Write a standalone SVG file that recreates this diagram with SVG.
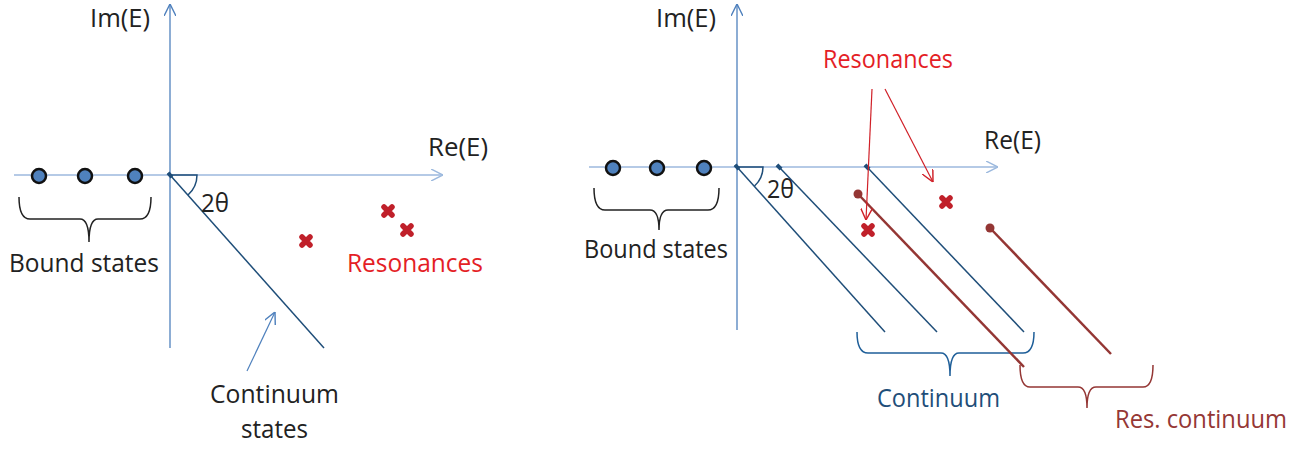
<svg xmlns="http://www.w3.org/2000/svg" width="1307" height="451" viewBox="0 0 1307 451">
<style>
text{font-family:"Open Sans",Lato,"Liberation Sans",sans-serif;font-size:25px;fill:#222}
.red{fill:#e41e26}
.blue{fill:#1f4e79}
.brown{fill:#953735}
.vax{stroke:#4f81bd;stroke-width:1.3;fill:none}
.hax{stroke:#9cb9de;stroke-width:1.3;fill:none}
.cont{stroke:#1f4e79;stroke-width:1.5;fill:none}
.rcont{stroke:#943634;stroke-width:2.5;fill:none}
.brace{stroke:#222;stroke-width:1.5;fill:none}
.cross{stroke:#c0202a;stroke-width:5.5;stroke-linecap:round}
.dot{fill:#4f81bd;stroke:#111;stroke-width:2.5}
.rdot{fill:#943634}
.rarrow{stroke:#d02028;stroke-width:1.2;fill:none}
.carrow{stroke:#4f81bd;stroke-width:1.2;fill:none}
</style>
<defs>
<marker id="axisV" markerWidth="12" markerHeight="12" refX="10" refY="5" orient="auto" markerUnits="userSpaceOnUse" viewBox="0 0 10 10">
<path d="M0,0 L10,5 L0,10" fill="none" stroke="#4f81bd" stroke-width="1.2"/>
</marker>
<marker id="axisH" markerWidth="12" markerHeight="12" refX="10" refY="5" orient="auto" markerUnits="userSpaceOnUse" viewBox="0 0 10 10">
<path d="M0,0 L10,5 L0,10" fill="none" stroke="#9cb9de" stroke-width="1.2"/>
</marker>
<marker id="redArr" markerWidth="12" markerHeight="12" refX="10" refY="5" orient="auto" markerUnits="userSpaceOnUse" viewBox="0 0 10 10">
<path d="M0,0 L10,5 L0,10" fill="none" stroke="#d02028" stroke-width="1.2"/>
</marker>
<marker id="blueArr" markerWidth="12" markerHeight="12" refX="10" refY="5" orient="auto" markerUnits="userSpaceOnUse" viewBox="0 0 10 10">
<path d="M0,0 L10,5 L0,10" fill="none" stroke="#4f81bd" stroke-width="1.2"/>
</marker>
<marker id="sq" markerWidth="6" markerHeight="6" refX="3" refY="3" orient="auto" markerUnits="userSpaceOnUse" viewBox="0 0 6 6">
<rect x="0" y="1" width="6" height="4" fill="#1f4e79"/>
</marker>
</defs>

<g id="left-panel">
<g id="left-axes">
<line class="vax" x1="170" y1="348" x2="170" y2="4" marker-end="url(#axisV)"/>
<line class="hax" x1="14" y1="175" x2="443" y2="175" marker-end="url(#axisH)"/>
<text x="90" y="27" textLength="60" lengthAdjust="spacingAndGlyphs">Im(E)</text>
<text x="428" y="156" textLength="60" lengthAdjust="spacingAndGlyphs">Re(E)</text>
</g>
<g id="left-bound">
<circle class="dot" cx="39" cy="176" r="7"/>
<circle class="dot" cx="85" cy="176" r="7"/>
<circle class="dot" cx="135" cy="176" r="7"/>
<path class="brace" d="M19,197 Q19,219 30,219 L80,219 Q89,219 89,242 Q89,219 98,219 L140,219 Q151,219 151,197"/>
<text x="9" y="272" textLength="150" lengthAdjust="spacingAndGlyphs">Bound states</text>
</g>
<g id="left-continuum">
<line class="cont" x1="170" y1="175" x2="324" y2="348" marker-start="url(#sq)"/>
<path class="cont" d="M170,175 L197,175 A27,27 0 0 1 188,195" stroke-width="1.2"/>
<text x="201" y="212" textLength="28" lengthAdjust="spacingAndGlyphs">2θ</text>
<text x="210" y="403" textLength="129" lengthAdjust="spacingAndGlyphs">Continuum</text>
<text x="241" y="438" textLength="67" lengthAdjust="spacingAndGlyphs">states</text>
</g>
<g id="left-resonances">
<g class="cross">
<path d="M302,237 L310,245 M310,237 L302,245"/>
<path d="M384,207 L392,215 M392,207 L384,215"/>
<path d="M403,226 L411,234 M411,226 L403,234"/>
</g>
<text class="red" x="347" y="272" textLength="136" lengthAdjust="spacingAndGlyphs">Resonances</text>
</g>
<g id="left-connectors">
<line class="carrow" x1="247" y1="371" x2="275" y2="312" marker-end="url(#blueArr)"/>
</g>
</g>

<g id="right-panel">
<g id="right-axes">
<line class="vax" x1="737" y1="330" x2="737" y2="4" marker-end="url(#axisV)"/>
<line class="hax" x1="589" y1="167" x2="998" y2="167" marker-end="url(#axisH)"/>
<text x="656" y="27" textLength="60" lengthAdjust="spacingAndGlyphs">Im(E)</text>
<text x="984" y="149" textLength="57" lengthAdjust="spacingAndGlyphs">Re(E)</text>
</g>
<g id="right-bound">
<circle class="dot" cx="613" cy="168" r="7"/>
<circle class="dot" cx="657" cy="168" r="7"/>
<circle class="dot" cx="704" cy="168" r="7"/>
<path class="brace" d="M594,188 Q594,210 605,210 L650,210 Q659,210 659,230 Q659,210 668,210 L708,210 Q719,210 719,188"/>
<text x="584" y="258" textLength="144" lengthAdjust="spacingAndGlyphs">Bound states</text>
</g>
<g id="right-continuum">
<line class="cont" x1="737" y1="167" x2="885" y2="332" marker-start="url(#sq)"/>
<line class="cont" x1="779" y1="167" x2="937" y2="332" marker-start="url(#sq)"/>
<line class="cont" x1="867" y1="167" x2="1024" y2="332" marker-start="url(#sq)"/>
<path class="cont" d="M737,167 L763,167 A26,26 0 0 1 754.5,186" stroke-width="1.2"/>
<text x="767" y="198" textLength="27" lengthAdjust="spacingAndGlyphs">2θ</text>
<path d="M857,332 Q857,353 868,353 L941,353 Q950,353 950,376 Q950,353 959,353 L1023,353 Q1034,353 1034,332" fill="none" stroke="#1f5f99" stroke-width="1.5"/>
<text class="blue" x="877" y="407" textLength="123" lengthAdjust="spacingAndGlyphs">Continuum</text>
</g>
<g id="right-res-continuum">
<line class="rcont" x1="858" y1="194" x2="1024" y2="367"/>
<line class="rcont" x1="990" y1="228" x2="1111" y2="354"/>
<circle class="rdot" cx="858" cy="194" r="4.5"/>
<circle class="rdot" cx="990" cy="228" r="4.5"/>
<path d="M1020,365 Q1020,387 1030,387 L1078,387 Q1087,387 1087,408 Q1087,387 1096,387 L1143,387 Q1153,387 1153,365" fill="none" stroke="#943634" stroke-width="1.5"/>
<text class="brown" x="1115" y="428" textLength="172" lengthAdjust="spacingAndGlyphs">Res. continuum</text>
</g>
<g id="right-resonances">
<g class="cross">
<path d="M864,226 L872,234 M872,226 L864,234"/>
<path d="M942,198 L950,206 M950,198 L942,206"/>
</g>
<text class="red" x="823" y="68" textLength="130" lengthAdjust="spacingAndGlyphs">Resonances</text>
</g>
<g id="right-connectors">
<line class="rarrow" x1="872" y1="89" x2="866" y2="220" marker-end="url(#redArr)"/>
<line class="rarrow" x1="885" y1="89" x2="933" y2="182" marker-end="url(#redArr)"/>
</g>
</g>
</svg>
